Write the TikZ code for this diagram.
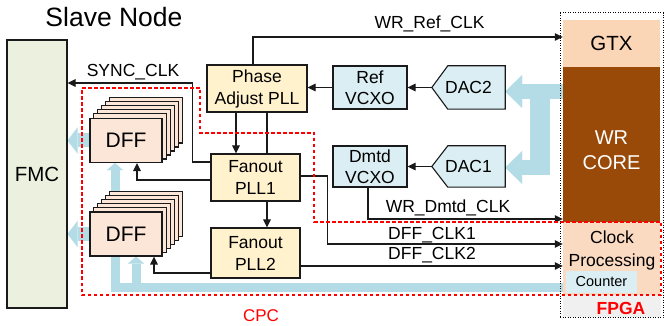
\documentclass[tikz,border=0pt]{standalone}
\usepackage{fontspec}
\setmainfont{Liberation Sans}
\usetikzlibrary{arrows.meta,calc}
\definecolor{fmcgreen}{HTML}{EBF1DE}
\definecolor{yell}{HTML}{FFF2CC}
\definecolor{lblue}{HTML}{DAEEF3}
\definecolor{dffc}{HTML}{FCE6D8}
\definecolor{gtxc}{HTML}{FAD5B6}
\definecolor{corec}{HTML}{994A08}
\definecolor{clkc}{HTML}{FBDAC2}
\definecolor{fatblue}{HTML}{B4DCE7}
\definecolor{fpgagray}{HTML}{F0F0F0}
\definecolor{edge}{HTML}{1A1A1A}
\pgfdeclarelayer{bg}
\pgfdeclarelayer{mid}
\pgfsetlayers{bg,mid,main}
\newcommand\labfont{\fontsize{17.5}{22}\selectfont}
\begin{document}
\begin{tikzpicture}[x=1pt,y=-1pt,
 box/.style={draw=edge,line width=1.1pt,align=center,inner sep=0pt,font=\labfont},
 dffback/.style={draw=edge,line width=1.1pt,fill=dffc},
 arr/.style={draw=edge,line width=1.1pt,-{Triangle[length=8pt,width=7.5pt]}},
 plain/.style={draw=edge,line width=1.1pt},
 lbl/.style={anchor=base,inner sep=0pt,font=\labfont},
 fat/.style={draw=fatblue,line width=15pt,-{Triangle[length=17pt,width=33pt,line width=0.01pt]}},
 busup/.style={draw=fatblue,line width=9pt,-{Triangle[length=7pt,width=16pt,line width=0.01pt]}},
 fmcarr/.style={draw=fatblue,line width=14pt,-{Triangle[length=10pt,width=26pt,line width=0.01pt]}},
 cpc/.style={draw=red,line width=1.6pt,dash pattern=on 3.5pt off 2.5pt},
 dacpoly/.style={draw=edge,line width=1.1pt,fill=lblue},
]
\useasboundingbox (0,0) rectangle (665,326);

\node[lbl,font=\fontsize{26.5}{30}\selectfont] (title) at (114,27) {Slave Node};
\node[box,fill=fmcgreen,minimum width=60,minimum height=268,font=\fontsize{20.5}{24}\selectfont] (fmc) at (37,174) {FMC};

% FPGA side
\fill[fpgagray] (563,295) rectangle (661,317);
\node[fill=gtxc,minimum width=97,minimum height=47,inner sep=0,font=\fontsize{20.5}{24}\selectfont] (gtx) at (611.5,43.5) {GTX};
\node[fill=corec,minimum width=97,minimum height=155,inner sep=0] (wrc) at (611.5,144.5) {};
\node[align=center,text=white,inner sep=0,font=\fontsize{20}{25}\selectfont] (wrct) at (611.5,150.5) {WR\\CORE};
\node[fill=clkc,minimum width=97,minimum height=73,inner sep=0] (clkp) at (611.5,258.5) {};
\node[align=center,inner sep=0,font=\fontsize{17.5}{23}\selectfont] (clkt) at (612,250) {Clock\\Processing};
\node[fill=lblue,minimum width=71,minimum height=22,inner sep=0,font=\fontsize{14.5}{17}\selectfont] (cnt) at (601.5,282) {Counter};

% boxes
\node[box,fill=yell,minimum width=100,minimum height=47] (pap) at (257,88.5) {Phase\\Adjust PLL};
\node[box,fill=yell,minimum width=89,minimum height=47] (fo1) at (255.5,177.5) {Fanout\\PLL1};
\node[box,fill=yell,minimum width=89,minimum height=50] (fo2) at (255.5,253) {Fanout\\PLL2};
\node[box,fill=lblue,minimum width=74,minimum height=43,font=\fontsize{17.5}{21}\selectfont] (refv) at (370,87.5) {Ref\\VCXO};
\node[box,fill=lblue,minimum width=74,minimum height=41,font=\fontsize{17.5}{21}\selectfont] (dmtd) at (370,166.5) {Dmtd\\VCXO};
\node[inner sep=0,minimum width=73,minimum height=43,font=\labfont] (dac2) at (468.5,87.5) {DAC2};
\node[inner sep=0,minimum width=73,minimum height=41,font=\labfont] (dac1) at (468.5,166.5) {DAC1};
\node[box,fill=dffc,minimum width=72,minimum height=44,font=\fontsize{21}{24}\selectfont] (dff1) at (126,140.5) {DFF};
\node[box,fill=dffc,minimum width=72,minimum height=44,font=\fontsize{21}{24}\selectfont] (dff2) at (126,234) {DFF};

\begin{pgfonlayer}{mid}
\draw[dacpoly] (dac2.west) -- ($(dac2.north west)+(16,0)$) -- (dac2.north east) -- (dac2.south east) -- ($(dac2.south west)+(16,0)$) -- cycle;
\draw[dacpoly] (dac1.west) -- ($(dac1.north west)+(16,0)$) -- (dac1.north east) -- (dac1.south east) -- ($(dac1.south west)+(16,0)$) -- cycle;
\foreach \k in {5,4,3,2,1}{
  \draw[dffback] ($(dff1.south west)+(4*\k,-4*\k)$) rectangle ($(dff1.north east)+(4*\k,-4*\k)$);
  \draw[dffback] ($(dff2.south west)+(4*\k,-4*\k)$) rectangle ($(dff2.north east)+(4*\k,-4*\k)$);
}
\end{pgfonlayer}

\begin{pgfonlayer}{bg}
\draw[fat] ([yshift=53pt]wrc.west) -- ([yshift=-4pt]dac2.east);
\draw[draw=fatblue,line width=20pt] ([xshift=-23pt,yshift=60.5pt]wrc.west) -- ([xshift=-23pt,yshift=-30.5pt]wrc.west);
\draw[fat] ([xshift=-23pt,yshift=-23pt]wrc.west) -- ([yshift=-1pt]dac1.east);
\draw[fmcarr] (dff1.west) -- (dff1.west -| fmc.east);
\draw[fmcarr] (dff2.west) -- (dff2.west -| fmc.east);
\coordinate (busend) at ([yshift=-29.5pt]clkp.west);
\draw[busup] (busend) -| ([xshift=-11pt]dff1.south);
\draw[busup] ([xshift=10pt]dff2.south |- busend) -- ([xshift=10pt]dff2.south);
\end{pgfonlayer}

% connectors
\draw[arr] ([xshift=-4pt]pap.north) |- ([yshift=6.5pt]gtx.west);
\draw[arr] (refv.west) -- (refv.west -| pap.east);
\draw[arr] (dac2.west) -- (refv.east);
\draw[arr] (dac1.west) -- (dmtd.east);
\draw[arr] ([xshift=-21pt]pap.south) -- ([xshift=-19.5pt]fo1.north);
\draw[plain] ([xshift=10pt]pap.south) -- ([xshift=11.5pt]fo1.north);
\draw[arr] ([xshift=11.5pt]fo1.south) -- ([xshift=11.5pt]fo2.north);
\draw[arr] ([yshift=15.5pt]fo1.west) -- ++(-18,0) |- ([yshift=91pt]fmc.east);
\draw[arr] ([yshift=-2.5pt]fo1.west) -| ([xshift=11pt]dff1.south);
\draw[arr] ([yshift=-20pt]fo2.west) -| ([xshift=28pt]dff2.south);
\draw[arr] ([yshift=1.5pt]fo1.east) -- ++(27,0) |- ([yshift=14.5pt]clkp.west);
\draw[arr] ([yshift=-13pt]fo2.east) -- ([yshift=-7.5pt]clkp.west);
\draw[arr] ([xshift=-2pt]dmtd.south) |- ([yshift=-74.5pt]wrc.west);

% regions
\draw[cpc] (82,88) -- (200,88) -- (200,133) -- (314,133) -- (314,222) -- (661,222) -- (661,295) -- (82,295) -- cycle;
\draw[line width=1pt,dash pattern=on 1pt off 1.5pt] (560,13) rectangle (663,318);
\node[lbl,text=red,font=\fontsize{17}{20}\selectfont] (cpct) at (261,322) {CPC};
\node[lbl,text=red,font=\fontsize{17.5}{20}\selectfont\bfseries] (fpgat) at (621,314) {FPGA};

% labels
\node[lbl] (lsync) at (133,77) {SYNC\_CLK};
\node[lbl] (lref) at (429.5,29) {WR\_Ref\_CLK};
\node[lbl] (ldmtd) at (448,213) {WR\_Dmtd\_CLK};
\node[lbl] (lc1) at (432,240) {DFF\_CLK1};
\node[lbl] (lc2) at (432,260) {DFF\_CLK2};
\end{tikzpicture}
\end{document}
